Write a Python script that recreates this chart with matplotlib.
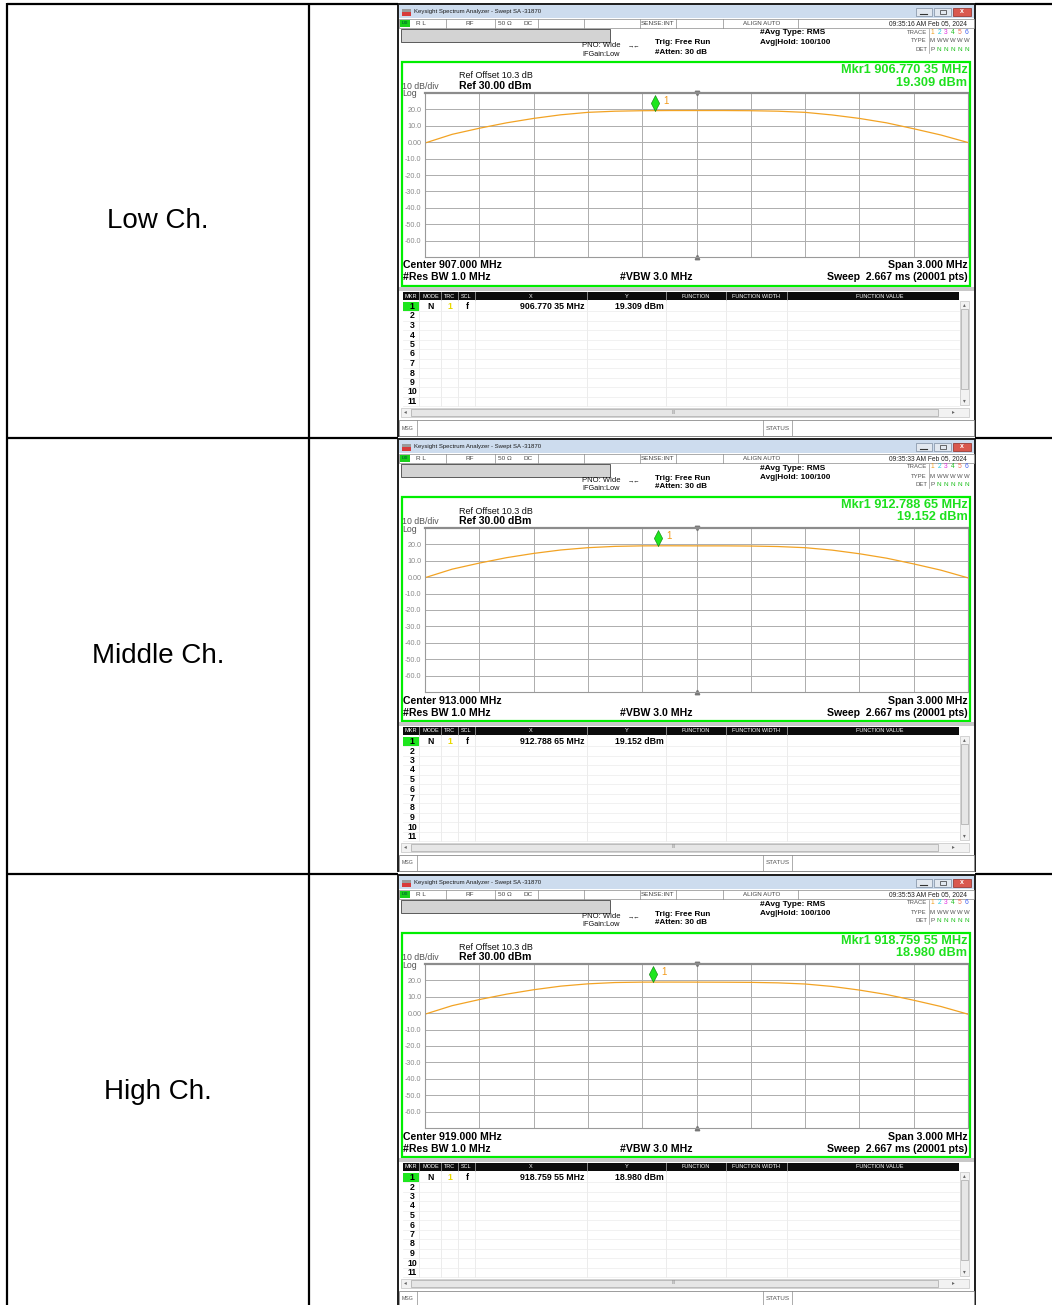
import numpy as np
import matplotlib.pyplot as plt
from matplotlib.patches import Rectangle
from matplotlib.path import Path

plt.rcParams['font.family'] = ['Liberation Sans', 'DejaVu Sans']

W, H = 1052, 1305

# table / analyser data
channels = ['Low Ch.', 'Middle Ch.', 'High Ch.']
center_mhz = [907.0, 913.0, 919.0]
span_mhz = 3.0
mkr_mhz = [906.77035, 912.78865, 918.75955]
mkr_text = ['906.770 35', '912.788 65', '918.759 55']
mkr_dbm = [19.309, 19.152, 18.980]
stamps = ['09:35:16 AM Feb 05, 2024', '09:35:33 AM Feb 05, 2024', '09:35:53 AM Feb 05, 2024']

# offset from center (MHz), one reading every half division
offset_mhz = [-1.50, -1.35, -1.20, -1.05, -0.90, -0.75, -0.60, -0.45, -0.30, -0.15, 0.00,
              0.15, 0.30, 0.45, 0.60, 0.75, 0.90, 1.05, 1.20, 1.35, 1.50]
trace_low = [-0.5, 4.8, 8.5, 11.8, 14.5, 16.7, 18.2, 18.9, 19.2, 19.3, 19.3,
             19.3, 19.2, 18.9, 18.2, 16.6, 14.5, 11.8, 8.2, 4.4, -0.2]
trace_mid = [-0.3, 4.9, 8.6, 11.9, 14.5, 16.6, 18.0, 18.8, 19.1, 19.15, 19.1,
             19.1, 19.0, 18.7, 18.0, 16.5, 14.3, 11.6, 8.1, 4.3, -0.4]
trace_high = [-0.6, 4.6, 8.3, 11.6, 14.3, 16.5, 17.9, 18.7, 18.95, 18.98, 18.95,
              18.9, 18.8, 18.5, 17.8, 16.3, 14.1, 11.4, 7.9, 4.1, -0.6]
traces = [trace_low, trace_mid, trace_high]

ylevels = [20, 10, 0, -10, -20, -30, -40, -50, -60]
ylabels = ['20.0', '10.0', '0.00', '-10.0', '-20.0', '-30.0', '-40.0', '-50.0', '-60.0']
trace_colors = ['#f0a020', '#20c8e0', '#e030e0', '#20c020', '#f07050', '#4060f0']

screen_dy = [0, 435, 871]

fig = plt.figure(figsize=(W / 100, H / 100), dpi=100)
bg = fig.add_axes([0, 0, 1, 1])
bg.set_xlim(0, W)
bg.set_ylim(H, 0)
bg.axis('off')


def box(x0, y0, x1, y1, **kw):
    kw.setdefault('lw', 0)
    bg.add_patch(Rectangle((x0, y0), x1 - x0, y1 - y0, **kw))


def txt(x, y, s, size, **kw):
    kw.setdefault('color', 'black')
    bg.text(x, y, s, fontsize=size, va='center', **kw)


def hline(y, x0, x1, **kw):
    bg.plot([x0, x1], [y, y], **kw)


def vline(x, y0, y1, **kw):
    bg.plot([x, x], [y0, y1], **kw)


# table grid
tl = dict(color='black', lw=1.6, solid_capstyle='butt')
hline(4, 7, 398, **tl)
hline(4, 975, W, **tl)
for yy in (438, 874):
    hline(yy, 7, 398, **tl)
    hline(yy, 975, W, **tl)
vline(7, 3.2, H, **tl)
vline(309, 3.2, H, **tl)

diamond = Path([(0, 0), (0.26, 0.5), (0, 1), (-0.26, 0.5), (0, 0)])


def screen(k, dy):
    y = lambda v: v + dy
    box(398, y(4), 975, y(436), fc='white', ec='#1c1c1c', lw=1.4)

    # title bar
    box(399, y(5), 974, y(18), fc='#cddcee')
    box(402, y(8.5), 411, y(12), fc='#9a9a9a')
    box(402, y(12), 411, y(16), fc='#d83a3a')
    txt(414, y(11.5), 'Keysight Spectrum Analyzer - Swept SA -31870', 4.3, color='#1a1a1a')
    box(916, y(7.5), 932, y(16), fc='#e2e8f0', ec='#7d8ca0', lw=0.5)
    box(934, y(7.5), 951, y(16), fc='#e2e8f0', ec='#7d8ca0', lw=0.5)
    box(953, y(7.5), 971, y(16), fc='#d9584e', ec='#8c2a22', lw=0.5)
    hline(y(13.8), 920, 927, color='#333', lw=0.8)
    box(940, y(10), 946, y(14), fc='none', ec='#333', lw=0.5)
    txt(962, y(11.5), 'x', 5, ha='center', color='white', weight='bold')

    # status row
    box(399, y(18.5), 974, y(27.5), fc='white', ec='#8a8a8a', lw=0.5)
    box(400, y(19.5), 410, y(27), fc='#19d019')
    txt(405, y(23.3), 'LXI', 3, ha='center', weight='bold', color='#063')
    for xs in (446, 495, 538, 584, 640, 676, 723, 798):
        vline(xs, y(18.5), y(27.5), color='#8a8a8a', lw=0.5)
    for xs, s in ((416, 'R L'), (466, 'RF'), (498, '50 Ω'), (523, 'DC')):
        txt(xs, y(23.3), s, 4.6, color='#444')
    txt(658, y(23.3), 'SENSE:INT', 4.6, ha='center', color='#444')
    txt(762, y(23.3), 'ALIGN AUTO', 4.5, ha='center', color='#444')
    txt(967, y(23.3), stamps[k], 4.8, ha='right', color='#222')

    # settings block
    box(401, y(29), 610, y(41.5), fc='#d3d3d3', ec='#5a5a5a', lw=0.7)
    txt(582, y(45.5), 'PNO: Wide', 5.5, color='#111')
    txt(582, y(54), 'IFGain:Low', 5.3, color='#111')
    txt(628, y(45.5), '→←', 4.5, color='#111')
    txt(655, y(43), 'Trig: Free Run', 5.9, weight='bold')
    txt(655, y(52), '#Atten: 30 dB', 5.8, weight='bold')
    txt(760, y(33), '#Avg Type: RMS', 6, weight='bold')
    txt(760, y(42.5), 'Avg|Hold: 100/100', 5.9, weight='bold')
    for yy, s in ((32, 'TRACE'), (41, 'TYPE'), (49.5, 'DET')):
        txt(927, y(yy), s, 4.3, ha='right', color='#555')
    vline(929, y(28.5), y(53), color='#999', lw=0.5)
    for i in range(6):
        xx = 932.5 + 6.8 * i
        txt(xx, y(32), str(i + 1), 4.8, ha='center', color=trace_colors[i])
        txt(xx, y(41), 'M' if i == 0 else 'W', 4.3, ha='center', color='#555')
        txt(xx, y(49.5), 'P' if i == 0 else 'N', 4.6, ha='center',
            color='#555' if i == 0 else '#1fc01f')

    # graticule frame
    box(401.5, y(62), 969.5, y(285.5), fc='none', ec='#00ee00', lw=1.6)
    txt(459, y(76), 'Ref Offset 10.3 dB', 6.5, color='#111')
    txt(459, y(86), 'Ref 30.00 dBm', 7.6, weight='bold')
    txt(402.5, y(86.5), '10 dB/div', 6.3, color='#555')
    txt(402.5, y(94), 'Log', 6.3, color='#555')
    txt(967.5, y(70), 'Mkr1 %s MHz' % mkr_text[k], 9.2, ha='right', weight='bold', color='#1ee01e')
    txt(967.5, y(82.5), '%.3f dBm' % mkr_dbm[k], 9.2, ha='right', weight='bold', color='#1ee01e')
    txt(403, y(265.5), 'Center %.3f MHz' % center_mhz[k], 7.6, weight='bold')
    txt(403, y(277.5), '#Res BW 1.0 MHz', 7.6, weight='bold')
    txt(693, y(277.5), '#VBW 3.0 MHz', 7.6, ha='right', weight='bold')
    txt(967.5, y(265.5), 'Span %.3f MHz' % span_mhz, 7.6, ha='right', weight='bold')
    txt(967.5, y(277.5), 'Sweep  2.667 ms (20001 pts)', 7.6, ha='right', weight='bold')

    # trace window
    ax = fig.add_axes([425 / W, 1 - (257 + dy) / H, 543 / W, 164 / H])
    c = center_mhz[k]
    ax.set_xlim(c - span_mhz / 2, c + span_mhz / 2)
    ax.set_ylim(-70, 30)
    ax.set_xticks(np.linspace(c - span_mhz / 2, c + span_mhz / 2, 11))
    ax.set_xticklabels([])
    ax.set_yticks(ylevels, ylabels)
    ax.tick_params(length=0, labelsize=5.2, labelcolor='#8a8a8a', pad=2.5)
    ax.grid(True, color='#adadad', lw=0.7)
    for s in ax.spines.values():
        s.set_color('#9a9a9a')
        s.set_linewidth(0.8)
    ax.spines['top'].set_linewidth(1.6)
    ax.spines['top'].set_color('#8c8c8c')
    freqs = [c + o for o in offset_mhz]
    ax.plot(freqs, traces[k], color='#f2a324', lw=0.9)
    ax.plot(mkr_mhz[k], mkr_dbm[k], marker=diamond, ms=23, color='#1ee61e',
            mec='#0b7d0b', mew=0.4, clip_on=False, zorder=5)
    ax.annotate('1', (mkr_mhz[k], mkr_dbm[k]), xytext=(8, 10), textcoords='offset pixels',
                fontsize=7, color='#f29a1a', va='center')
    ax.plot(c, 30, marker='v', ms=3.2, color='#777', clip_on=False)
    ax.plot(c, -70, marker='^', ms=3.2, color='#777', clip_on=False)

    # marker table
    box(399, y(287), 974, y(290.5), fc='#c8c8c8')
    box(403, y(291.5), 959, y(300), fc='#0c0c0c')
    for xs in (419, 441, 458, 475, 587, 666, 726, 787):
        vline(xs, y(291.5), y(300), color='#9a9a9a', lw=0.6)
        vline(xs, y(300), y(406), color='#e4e4e4', lw=0.5)
    heads = [(411, 'MKR'), (430.5, 'MODE'), (449.5, 'TRC'), (466.5, 'SCL'), (531, 'X'),
             (626.5, 'Y'), (696, 'FUNCTION'), (756.5, 'FUNCTION WIDTH'), (880, 'FUNCTION VALUE')]
    for xs, s in heads:
        txt(xs, y(296), s, 4.0, ha='center', color='white')
    box(403, y(302), 419, y(310.8), fc='#1ee61e')
    for i in range(11):
        yy = y(306.5 + 9.5 * i)
        txt(412, yy, str(i + 1), 6.3, ha='center', weight='bold')
        hline(yy + 4.75, 403, 959, color='#ececec', lw=0.5)
    txt(430.5, y(306.5), 'N', 6.3, ha='center', weight='bold')
    txt(450, y(306.5), '1', 6.3, ha='center', weight='bold', color='#e8d800')
    txt(467, y(306.5), 'f', 6.3, ha='center', weight='bold')
    txt(584, y(306.5), mkr_text[k] + ' MHz', 6.3, ha='right', weight='bold')
    txt(663.5, y(306.5), '%.3f dBm' % mkr_dbm[k], 6.3, ha='right', weight='bold')

    # scroll bars
    box(960, y(300.5), 968.5, y(405), fc='#f2f2f2', ec='#c4c4c4', lw=0.5)
    box(961, y(309), 967.5, y(389), fc='#e6e6e6', ec='#a8a8a8', lw=0.5)
    txt(964.2, y(304.5), '▴', 4, ha='center', color='#666')
    txt(964.2, y(400.5), '▾', 4, ha='center', color='#666')
    box(401, y(407.5), 968.5, y(416.5), fc='#f2f2f2', ec='#c4c4c4', lw=0.5)
    box(411, y(408.5), 938, y(415.5), fc='#e6e6e6', ec='#a8a8a8', lw=0.5)
    txt(405.5, y(412), '◂', 4, ha='center', color='#666')
    txt(953, y(412), '▸', 4, ha='center', color='#666')
    txt(674, y(412), 'III', 3.5, ha='center', color='#888')

    # message bar
    box(399, y(419.5), 974, y(435.5), fc='white', ec='#8c8c8c', lw=0.6)
    for xs in (417, 763, 792):
        vline(xs, y(419.5), y(435.5), color='#8c8c8c', lw=0.5)
    txt(402, y(428), 'MSG', 3.8, color='#555')
    txt(777.5, y(428), 'STATUS', 4.6, ha='center', color='#555')


for k, name in enumerate(channels):
    txt(158, 221 + screen_dy[k], name, 20, ha='center')
    screen(k, screen_dy[k])

fig.savefig('out.png', dpi=100)
